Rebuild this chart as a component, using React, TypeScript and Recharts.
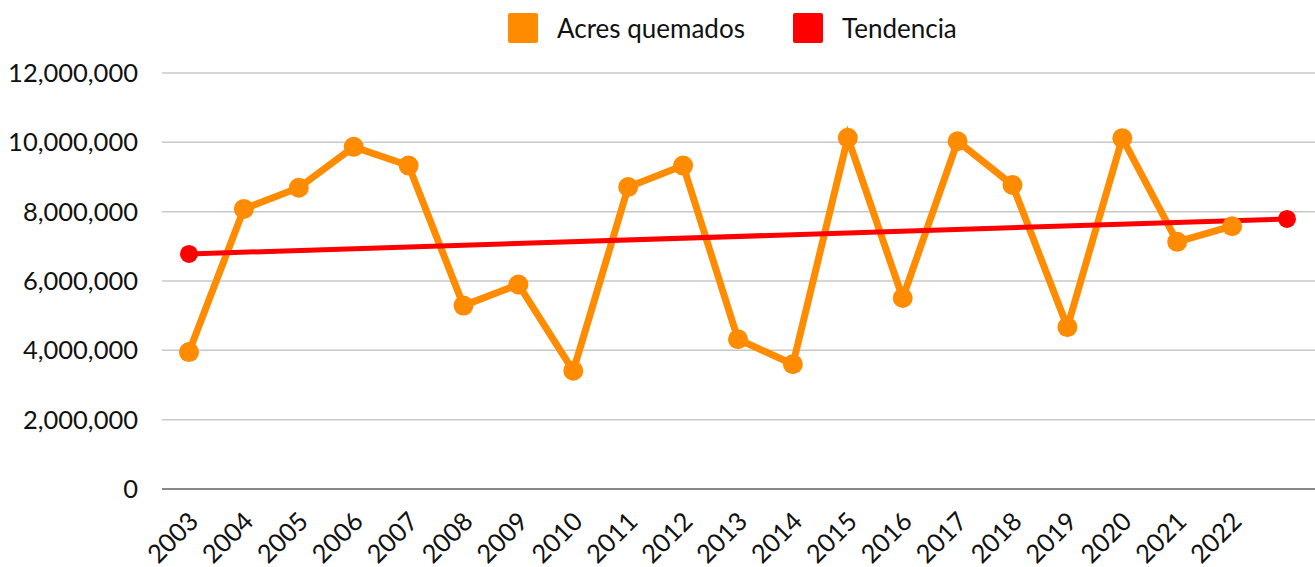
import React from "react";
import { CartesianGrid, Line, LineChart, XAxis, YAxis } from "recharts";

const years = [
  "2003", "2004", "2005", "2006", "2007", "2008", "2009", "2010", "2011", "2012",
  "2013", "2014", "2015", "2016", "2017", "2018", "2019", "2020", "2021", "2022", "",
];
const acres = [
  3950000, 8080000, 8690000, 9870000, 9330000, 5290000, 5900000, 3410000, 8710000, 9330000,
  4320000, 3600000, 10130000, 5510000, 10030000, 8770000, 4670000, 10120000, 7130000, 7580000, null,
];
// trend only has its two end points
const trend = [
  6780000, null, null, null, null, null, null, null, null, null,
  null, null, null, null, null, null, null, null, null, null, 7790000,
];
const yTicks = [0, 2000000, 4000000, 6000000, 8000000, 10000000, 12000000];
const seriesNames = ["Acres quemados", "Tendencia"];

const ORANGE = "#FF8C00";
const RED = "#FF0000";
const FONT = "Lato, 'Open Sans', sans-serif";

const data = years.map((year, i) => ({ year, acres: acres[i], trend: trend[i] }));

const fmt = (v: number) => v.toLocaleString("en-US");

function YearTick(props: any) {
  const { x, y, payload } = props;
  return (
    <g transform={`translate(${x + 11},${y + 26})`}>
      <text transform="rotate(-45)" textAnchor="end" fontSize={25.5} fontFamily={FONT} fill="#111">
        {payload.value}
      </text>
    </g>
  );
}

function LegendBox() {
  const colors = [ORANGE, RED];
  const lefts = [508, 793];
  return (
    <>
      {seriesNames.map((name, i) => (
        <div key={name} style={{ position: "absolute", left: lefts[i], top: 13, display: "flex", alignItems: "center" }}>
          <div style={{ width: 30, height: 30, background: colors[i], borderRadius: 2 }} />
          <span style={{ marginLeft: 19, fontSize: 26, fontFamily: FONT, color: "#111", lineHeight: "30px" }}>{name}</span>
        </div>
      ))}
    </>
  );
}

export default function App() {
  return (
    <div style={{ position: "absolute", left: 0, top: 0, width: 1315, height: 567, background: "#fff" }}>
      <LegendBox />
      <LineChart width={1315} height={567} data={data} margin={{ top: 73, right: 0, bottom: 0, left: 0 }}>
        <CartesianGrid vertical={false} stroke="#c8c8c8" strokeWidth={1.5} />
        <XAxis
          dataKey="year"
          interval={0}
          height={78}
          padding={{ left: 27, right: 28 }}
          tickLine={false}
          stroke="#888"
          strokeWidth={2}
          tick={<YearTick />}
        />
        <YAxis
          width={162}
          domain={[0, 12000000]}
          ticks={yTicks}
          tickFormatter={fmt}
          axisLine={false}
          tickLine={false}
          tickMargin={18}
          tick={{ fontSize: 25.5, fontFamily: FONT, fill: "#111" }}
        />
        <Line
          dataKey="acres"
          name={seriesNames[0]}
          stroke={ORANGE}
          strokeWidth={7}
          dot={false}
          activeDot={false}
          isAnimationActive={false}
        />
        <Line
          dataKey="trend"
          name={seriesNames[1]}
          stroke={RED}
          strokeWidth={5}
          connectNulls
          dot={{ r: 9, fill: RED, stroke: RED, strokeWidth: 0 }}
          activeDot={false}
          isAnimationActive={false}
        />
        <Line
          dataKey="acres"
          name="acres-dots"
          stroke="none"
          legendType="none"
          dot={{ r: 10, fill: ORANGE, stroke: ORANGE, strokeWidth: 0 }}
          activeDot={false}
          isAnimationActive={false}
        />
      </LineChart>
    </div>
  );
}
